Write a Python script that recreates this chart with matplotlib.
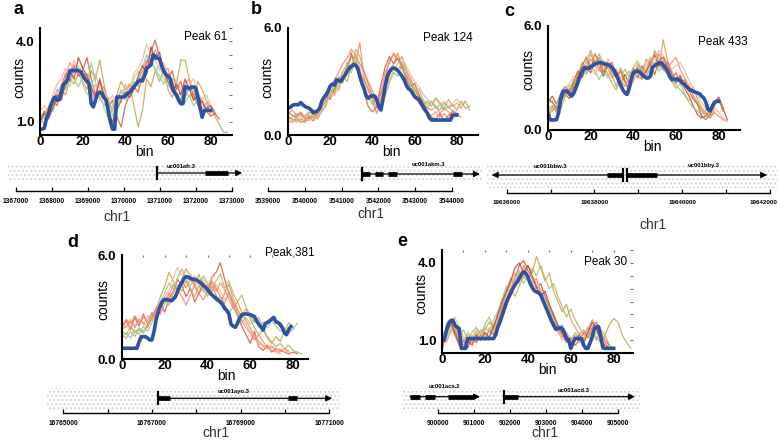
import numpy as np
import matplotlib.pyplot as plt
from matplotlib.ticker import MultipleLocator

plt.rcParams['font.family'] = ['Liberation Sans', 'DejaVu Sans']

W, H = 779, 441

# ---------------- profile data (mean = blue, reps every 2 bins) ----------------
a_mean = [0.72, 0.72, 0.75, 1.1, 1.3, 1.6, 1.8, 1.92, 1.8, 1.82,
          2.1, 2.4, 2.45, 2.6, 2.9, 2.93, 2.9, 2.92, 2.9, 2.87,
          2.75, 2.6, 2.5, 2.42, 1.67, 1.55, 1.8, 2.05, 2.1, 2.05,
          1.9, 1.8, 1.4, 1.0, 0.72, 0.72, 1.92, 1.92, 1.92, 1.92,
          1.95, 2.05, 2.1, 2.2, 2.3, 2.4, 2.5, 2.55, 2.52, 2.7,
          3.0, 3.05, 3.12, 3.5, 3.45, 3.37, 3.35, 3.1, 2.9, 2.75,
          2.7, 2.62, 2.3, 2.1, 1.98, 1.8, 1.67, 1.67, 2.3, 2.28,
          2.24, 2.28, 2.3, 2.26, 1.9, 1.54, 1.16, 1.42, 1.42, 1.42, 1.42]
a_reps = [
    [1.2, 1.3, 1.5, 1.4, 1.9, 2.2, 2.0, 2.6, 2.4, 2.8, 2.5, 2.2, 2.9, 2.6, 3.3, 2.4, 1.3, 0.9, 2.0, 2.5, 2.2, 2.4, 1.6,
     0.8, 1.4, 2.6, 2.3, 2.9, 2.5, 3.0, 2.2, 1.9, 2.4, 3.3, 3.3, 2.6, 1.8, 2.5, 2.2, 1.8, 1.5, 1.2, 0.9, 0.6, 0.6],
    [1.0, 1.4, 1.2, 1.8, 1.6, 2.3, 2.8, 2.5, 3.1, 2.7, 2.9, 3.4, 2.6, 2.0, 2.5, 1.9, 1.5, 1.8, 1.2, 0.8, 1.6, 2.0, 2.3,
     2.1, 2.7, 3.2, 3.6, 4.05, 3.4, 3.0, 2.6, 2.9, 2.2, 2.5, 1.9, 2.3, 2.0, 1.6, 1.8, 1.4, 1.2, 1.3, 1.1],
    [1.1, 0.9, 1.5, 1.7, 2.2, 2.0, 2.7, 3.2, 2.9, 3.0, 2.6, 2.8, 2.2, 1.7, 2.1, 2.3, 1.8, 1.4, 1.9, 2.1, 2.0, 2.4, 2.2,
     2.6, 2.9, 3.3, 3.1, 3.7, 3.2, 2.8, 3.0, 2.4, 2.1, 1.8, 2.4, 2.6, 2.1, 1.9, 1.5, 1.7, 1.3],
    [1.3, 1.1, 1.6, 1.5, 2.0, 2.4, 2.2, 2.8, 2.6, 2.3, 2.7, 2.4, 3.2, 2.5, 1.9, 1.6, 1.9, 1.2, 1.7, 2.2, 1.8, 2.1, 2.5,
     2.3, 3.0, 3.5, 3.2, 3.0, 2.7, 2.4, 2.8, 2.2, 1.9, 2.1, 1.7, 2.0, 1.6, 1.8, 1.4, 1.5],
    [0.9, 1.2, 1.3, 1.9, 1.7, 2.1, 2.5, 2.3, 2.9, 3.1, 2.4, 2.0, 2.3, 2.8, 2.2, 1.5, 1.1, 1.6, 2.0, 1.7, 2.3, 2.0, 2.6,
     2.9, 2.5, 2.8, 3.4, 2.9, 3.1, 2.6, 2.3, 2.6, 2.0, 1.7, 2.2, 1.9, 2.3, 1.7, 1.9],
    [1.4, 1.6, 1.3, 2.0, 2.4, 2.6, 3.0, 2.7, 3.3, 2.8, 3.1, 2.5, 2.0, 2.4, 1.8, 2.1, 1.7, 2.0, 1.5, 1.9, 2.4, 2.2, 2.8,
     3.0, 3.3, 3.9, 3.5, 3.3, 2.9, 3.2, 2.7, 2.3, 2.6, 2.2, 1.9, 2.4, 2.6, 2.1, 1.8, 2.0, 1.6, 1.4],
    [1.0, 1.3, 1.1, 1.5, 2.0, 1.8, 2.4, 2.9, 2.6, 3.4, 3.0, 2.7, 2.3, 1.9, 2.6, 2.0, 1.3, 1.0, 1.4, 1.8, 2.1, 1.9, 2.2,
     2.7, 3.1, 2.8, 3.8, 3.3, 3.6, 2.9, 2.5, 2.1, 2.4, 2.0, 2.6, 2.2, 1.8, 2.0, 1.7, 1.5, 1.6, 1.3],
]
a_colors = ['olive', 'red', 'salmon', 'green', 'green2', 'pink', 'brown']

b_mean = [1.5, 1.55, 1.65, 1.7, 1.7, 1.7, 1.82, 1.7, 1.6, 1.55,
          1.5, 1.4, 1.25, 1.3, 1.35, 1.5, 1.9, 2.1, 2.25, 2.45,
          2.75, 2.85, 2.8, 3.1, 3.05, 3.0, 3.2, 3.35, 3.56, 3.75,
          3.85, 3.94, 3.92, 3.75, 3.3, 2.9, 2.63, 2.2, 2.06, 2.16,
          2.2, 2.18, 2.0, 1.6, 1.4, 2.0, 2.7, 3.28, 3.55, 3.7,
          3.75, 3.72, 3.6, 3.47, 3.3, 3.1, 2.8, 2.6, 2.53, 2.35,
          2.15, 2.06, 2.0, 1.8, 1.6, 1.4, 1.22, 0.95, 0.84, 0.84,
          0.84, 0.84, 0.84, 0.84, 0.84, 0.84, 0.84, 0.84, 1.12, 1.12, 1.12]
b_reps = [
    [1.0, 0.9, 0.8, 0.9, 0.8, 1.1, 1.0, 1.3, 1.6, 2.0, 2.5, 2.4, 3.0, 3.6, 3.9, 4.4, 4.0, 5.2, 3.2, 2.5, 1.9, 1.2, 2.0,
     3.2, 4.2, 4.5, 4.2, 4.4, 3.6, 3.2, 2.6, 2.2, 1.9, 1.5, 1.4, 1.6, 1.2, 1.5, 1.3, 1.0, 1.1],
    [0.8, 0.7, 0.9, 0.7, 0.8, 0.9, 1.2, 1.0, 1.5, 1.9, 2.2, 2.8, 2.5, 3.3, 3.0, 3.8, 4.5, 3.6, 3.0, 2.6, 2.2, 1.8, 2.4,
     3.0, 3.6, 4.0, 4.6, 3.8, 3.4, 2.9, 2.5, 2.1, 1.8, 1.5, 1.9, 1.6, 1.4, 1.8, 1.5, 1.7, 1.4, 1.9, 1.5, 1.6],
    [1.3, 1.1, 1.0, 1.2, 0.9, 1.0, 0.8, 1.2, 1.8, 2.2, 2.0, 2.6, 3.2, 3.0, 3.6, 4.6, 3.8, 3.4, 2.4, 1.6, 1.3, 1.6, 2.8,
     3.8, 4.4, 4.0, 4.3, 3.9, 3.1, 2.7, 2.9, 2.3, 1.7, 1.3, 1.0, 0.9, 1.2, 0.8, 1.1, 1.3, 1.2],
    [0.9, 1.0, 1.2, 1.0, 1.1, 1.3, 1.1, 1.4, 1.7, 2.3, 2.1, 2.9, 2.7, 3.4, 3.8, 3.5, 4.2, 3.1, 2.7, 2.1, 1.7, 2.2, 2.0,
     2.6, 3.3, 3.9, 3.6, 4.1, 3.3, 2.8, 2.4, 2.6, 2.0, 1.7, 1.9, 1.5, 1.7, 1.4, 1.6, 1.3],
    [0.7, 0.8, 0.7, 0.9, 1.0, 0.8, 0.9, 1.1, 1.4, 1.6, 2.4, 2.2, 2.7, 3.1, 3.4, 4.0, 4.3, 3.8, 3.4, 2.8, 2.3, 2.0, 1.8,
     2.5, 3.1, 3.6, 4.0, 4.3, 3.9, 3.4, 3.0, 2.7, 2.3, 2.0, 1.8, 2.0, 1.7, 1.9, 1.6, 1.8, 2.0, 1.7, 1.9],
    [1.1, 0.8, 1.0, 0.8, 0.7, 0.9, 1.0, 0.9, 1.3, 1.7, 2.6, 2.3, 3.3, 2.9, 4.1, 3.7, 4.8, 4.4, 3.5, 3.0, 2.5, 2.0, 1.7,
     2.2, 2.9, 3.5, 3.3, 4.0, 3.7, 3.0, 2.6, 2.0, 1.6, 1.9, 1.6, 2.1, 1.8, 1.5, 2.0, 1.6, 1.8, 1.5, 1.9, 1.4],
    [1.2, 1.4, 1.1, 1.3, 1.0, 1.2, 1.4, 1.2, 1.9, 2.4, 2.8, 3.1, 3.5, 4.0, 4.3, 4.8, 4.5, 4.0, 3.6, 2.9, 2.1, 1.5, 2.3,
     3.5, 4.0, 4.6, 4.3, 3.7, 3.3, 2.5, 2.1, 1.8, 1.4, 1.2, 1.1, 1.3, 1.0, 1.2, 0.9, 1.4, 1.2, 1.0],
]
b_colors = ['salmon', 'olive', 'red', 'green', 'pink', 'olive2', 'salmon']

c_mean = [0.97, 0.58, 0.58, 0.58, 0.6, 1.0, 1.8, 2.24, 2.24, 2.24,
          2.1, 1.95, 2.1, 2.4, 2.73, 3.1, 3.35, 3.6, 3.55, 3.55,
          3.65, 3.72, 3.8, 3.85, 3.9, 3.88, 3.82, 3.8, 3.78, 3.7,
          3.6, 3.45, 3.2, 2.9, 2.6, 2.34, 2.15, 2.05, 2.4, 2.9,
          3.3, 3.38, 3.4, 3.35, 3.22, 3.1, 3.0, 3.0, 3.1, 3.6,
          3.72, 3.8, 3.85, 3.9, 3.75, 3.6, 3.4, 3.1, 2.9, 2.92,
          2.95, 2.9, 2.85, 2.7, 2.63, 2.5, 2.38, 2.3, 2.24, 2.18,
          2.14, 2.1, 1.95, 1.85, 1.6, 1.2, 1.1, 1.36, 1.6, 1.65, 1.65]
c_reps = [
    [1.2, 1.4, 1.0, 1.8, 2.3, 2.0, 2.7, 3.2, 3.9, 3.5, 4.4, 3.8, 4.2, 3.4, 3.9, 3.2, 2.5, 3.6, 2.9, 2.1, 3.1, 3.8, 3.3,
     4.1, 3.7, 4.5, 3.6, 5.2, 4.0, 3.4, 2.8, 3.2, 2.6, 2.2, 2.5, 1.8, 1.3, 1.0, 0.8, 1.1],
    [1.6, 1.95, 1.5, 2.1, 2.5, 2.2, 2.8, 3.4, 3.0, 3.7, 3.3, 4.0, 3.6, 3.1, 3.8, 3.4, 3.0, 2.6, 3.2, 2.7, 3.5, 3.0, 3.7,
     3.3, 3.9, 4.3, 3.8, 3.5, 3.9, 3.2, 2.7, 3.1, 2.4, 2.0, 1.4, 0.9, 0.7, 0.8, 1.2, 1.6, 1.9, 1.3, 0.6],
    [1.0, 1.3, 1.1, 1.6, 2.0, 2.4, 2.2, 3.0, 3.6, 3.3, 4.1, 3.7, 3.4, 4.0, 3.6, 3.0, 3.5, 2.8, 2.5, 3.0, 3.6, 3.2, 2.9,
     3.5, 4.1, 3.7, 4.4, 4.0, 3.6, 3.9, 4.2, 3.5, 3.0, 2.6, 2.0, 1.5, 1.1, 0.8, 0.7, 1.0, 0.8, 0.6, 0.5],
    [1.3, 1.1, 1.5, 1.9, 2.2, 2.6, 2.4, 2.9, 3.5, 3.2, 3.8, 3.4, 2.9, 3.5, 3.0, 3.6, 3.2, 2.7, 3.0, 3.4, 2.9, 3.3, 3.6,
     3.1, 3.5, 3.9, 3.4, 3.7, 3.3, 2.9, 2.6, 2.3, 2.0, 1.6, 1.3, 1.1, 0.9, 1.2, 1.0],
    [1.5, 1.7, 1.3, 2.0, 2.4, 2.7, 3.1, 2.8, 3.4, 3.9, 3.6, 3.2, 3.8, 3.5, 4.1, 3.7, 3.3, 3.0, 2.6, 3.1, 2.7, 3.4, 3.1,
     3.8, 4.2, 4.0, 4.6, 4.3, 3.8, 3.5, 3.7, 3.9, 3.4, 2.9, 2.4, 2.0, 1.6, 1.2, 0.9, 1.3, 1.0, 0.7, 0.5],
    [1.8, 1.6, 1.2, 1.7, 2.1, 1.8, 2.5, 3.1, 3.7, 4.2, 3.5, 4.4, 3.9, 3.3, 3.7, 3.9, 3.1, 3.4, 2.8, 2.4, 3.2, 3.6, 3.0,
     3.4, 3.8, 3.2, 4.0, 4.2, 3.7, 3.0, 3.3, 2.7, 2.9, 2.3, 1.8, 1.5, 0.8, 0.6, 0.9, 1.4, 1.8, 1.1],
    [0.9, 1.1, 1.4, 1.2, 1.9, 2.3, 2.9, 2.6, 3.2, 4.0, 4.6, 3.9, 4.4, 3.8, 3.2, 2.7, 2.3, 3.0, 3.5, 3.1, 3.6, 4.0, 3.4,
     3.0, 3.6, 4.6, 4.1, 3.5, 3.2, 2.8, 2.4, 2.7, 2.1, 1.7, 2.0, 1.6, 1.2, 0.9, 0.7],
]
c_colors = ['olive', 'brown', 'salmon', 'green', 'pink', 'red', 'olive2']

d_mean = [0.62, 0.62, 0.62, 0.62, 0.62, 0.62, 0.62, 0.62, 1.0, 1.29,
          1.29, 1.29, 1.2, 1.1, 1.1, 1.6, 2.3, 2.73, 3.1, 3.35,
          3.44, 3.42, 3.4, 3.35, 3.45, 3.6, 3.9, 4.2, 4.4, 4.65,
          4.75, 4.73, 4.65, 4.6, 4.58, 4.56, 4.45, 4.38, 4.25, 4.15,
          4.0, 3.85, 3.7, 3.6, 3.5, 3.4, 3.28, 3.15, 2.92, 2.8,
          2.6, 2.0, 1.9, 1.83, 2.05, 2.35, 2.54, 2.6, 2.6, 2.58,
          2.56, 2.5, 2.44, 2.2, 2.0, 1.85, 1.67, 2.05, 2.1, 2.2,
          2.3, 2.4, 2.15, 2.1, 2.0, 1.8, 1.5, 1.4, 1.7, 1.87]
d_reps = [
    [1.8, 2.2, 1.7, 2.4, 1.9, 2.6, 2.0, 2.3, 2.8, 3.2, 2.7, 3.5, 3.9, 4.6, 4.2, 3.6, 4.1, 3.3, 3.8, 4.4, 4.0, 4.7, 5.0,
     5.55, 4.6, 3.8, 3.1, 2.5, 1.9, 1.4, 0.9, 1.6, 0.7, 0.5, 0.8, 0.4, 0.6, 0.5, 0.4, 0.3, 0.4, 0.3],
    [1.4, 1.2, 1.6, 1.3, 1.7, 1.5, 2.0, 2.4, 2.9, 3.6, 4.2, 5.0, 4.5, 3.9, 4.6, 5.2, 4.8, 4.3, 4.9, 4.0, 3.6, 4.2, 3.7,
     3.2, 3.8, 4.3, 3.5, 2.9, 2.4, 2.9, 2.3, 1.8, 1.4, 1.7, 1.2, 0.9, 1.3, 1.0, 1.6, 2.1, 1.8],
    [1.3, 1.5, 1.2, 1.7, 1.4, 1.9, 1.6, 2.1, 2.6, 3.3, 3.8, 4.4, 4.0, 4.7, 5.2, 4.6, 4.2, 4.8, 4.4, 3.9, 4.3, 3.7, 3.3,
     3.6, 3.1, 2.7, 3.0, 2.5, 2.1, 2.4, 2.0, 2.3, 1.9, 2.1, 1.8, 2.2, 1.9, 1.6, 1.8, 1.5, 1.7, 2.06],
    [2.0, 1.8, 2.3, 1.9, 2.2, 2.0, 2.5, 2.2, 2.7, 3.0, 3.6, 4.0, 4.7, 5.3, 4.8, 4.4, 4.9, 4.5, 4.1, 4.6, 4.2, 3.8, 4.3,
     3.9, 3.4, 3.7, 3.2, 2.8, 2.4, 2.0, 1.6, 1.2, 0.9, 0.7, 0.6, 0.8, 0.5, 0.6, 0.4, 0.5],
    [1.6, 1.4, 1.9, 1.5, 1.8, 1.6, 1.9, 2.6, 2.3, 2.9, 3.5, 3.1, 3.8, 4.3, 3.9, 4.5, 4.0, 3.6, 4.2, 4.8, 4.4, 3.9, 4.5,
     4.9, 4.1, 4.5, 3.8, 3.3, 3.7, 3.0, 2.5, 2.1, 2.4, 1.8, 1.3, 1.0, 0.7, 0.9, 0.6, 0.8, 0.5, 0.4, 0.3],
    [1.9, 2.3, 2.0, 2.5, 2.1, 2.4, 2.2, 2.7, 2.4, 3.0, 3.4, 3.8, 3.4, 4.0, 3.6, 3.1, 3.7, 4.3, 3.8, 3.4, 3.9, 4.5, 4.1,
     3.6, 3.2, 3.9, 3.3, 2.7, 2.2, 1.8, 1.5, 1.1, 1.4, 1.0, 0.7, 0.5, 0.4, 0.3],
    [1.7, 1.9, 2.2, 1.8, 2.3, 2.1, 1.8, 2.4, 3.0, 2.6, 3.2, 3.7, 4.3, 3.9, 4.5, 4.1, 4.6, 4.2, 3.7, 4.3, 3.8, 4.4, 3.9,
     4.4, 4.0, 3.5, 2.9, 3.3, 2.7, 2.2, 1.8, 1.3, 1.0, 0.8, 0.6, 0.7, 0.5, 0.4, 0.6, 0.4],
]
d_colors = ['red', 'olive', 'green', 'pink', 'olive2', 'salmon', 'salmon']

e_mean = [1.0, 1.0, 1.35, 1.65, 1.75, 1.78, 1.58, 1.5, 1.45, 0.68,
          0.68, 0.68, 1.06, 1.06, 1.06, 1.06, 1.06, 1.06, 1.06, 1.06,
          1.06, 1.06, 1.06, 1.06, 1.06, 1.2, 1.5, 1.7, 1.95, 2.2,
          2.45, 2.65, 2.82, 3.0, 3.15, 3.26, 3.4, 3.55, 3.65, 3.6,
          3.46, 3.22, 3.05, 2.92, 2.88, 2.84, 2.75, 2.55, 2.35, 2.16,
          1.95, 1.75, 1.58, 1.42, 1.45, 1.49, 1.45, 1.3, 1.06, 1.02,
          0.68, 0.9, 1.06, 1.06, 1.06, 1.06, 0.8, 0.68, 0.68, 0.9,
          1.13, 1.45, 1.52, 1.52, 1.1, 0.7, 0.68, 0.68, 0.68, 0.68, 0.68]
e_reps = [
    [0.8, 1.2, 1.7, 1.4, 1.0, 0.8, 1.1, 0.9, 1.3, 1.0, 1.4, 1.7, 1.5, 2.0, 2.4, 2.9, 3.4, 3.1, 3.7, 3.4, 3.9, 3.6, 4.25,
     3.8, 3.3, 3.6, 2.9, 2.5, 2.1, 2.4, 1.8, 1.5, 1.2, 1.4, 1.1, 1.3, 1.0, 1.4, 1.2, 1.6, 1.84, 1.7, 1.2, 0.9, 0.68],
    [0.7, 1.3, 1.6, 1.2, 0.8, 1.0, 0.7, 1.1, 0.9, 1.2, 1.0, 1.4, 1.2, 1.7, 2.2, 2.6, 3.0, 3.4, 3.9, 4.1, 3.7, 3.4, 3.0,
     3.2, 2.7, 2.3, 1.9, 1.5, 1.2, 0.9, 1.1, 0.8, 1.0, 1.3, 1.1, 1.5, 1.7, 1.3, 1.0, 0.8],
    [1.1, 1.5, 1.8, 1.5, 1.1, 0.9, 1.2, 1.0, 1.1, 1.4, 1.2, 1.1, 1.6, 1.9, 2.3, 2.8, 3.2, 3.6, 3.3, 3.9, 3.5, 3.2, 3.4,
     2.8, 2.4, 2.0, 1.7, 1.4, 1.1, 1.3, 1.0, 1.2, 0.9, 1.1, 1.4, 1.8, 1.5, 1.2, 0.9, 0.7],
    [0.9, 1.1, 1.5, 1.7, 1.3, 1.0, 1.3, 1.1, 1.4, 1.2, 1.5, 1.3, 1.8, 2.1, 2.6, 3.1, 2.8, 3.3, 3.6, 3.2, 3.5, 3.1, 2.8,
     3.0, 2.6, 2.2, 1.8, 1.4, 1.6, 1.2, 1.0, 1.3, 1.1, 0.9, 1.2, 1.0, 1.3, 1.1],
    [1.0, 0.9, 1.3, 1.6, 1.2, 1.4, 1.0, 1.3, 1.5, 1.2, 1.6, 1.9, 1.4, 1.8, 2.1, 2.5, 3.0, 2.7, 3.1, 3.5, 3.3, 3.8, 3.5,
     3.9, 3.4, 3.0, 3.2, 2.7, 2.3, 1.9, 2.2, 1.8, 1.5, 1.2, 1.5, 1.3, 1.1, 0.9, 1.2, 0.8, 0.7],
    [0.8, 1.0, 1.4, 1.9, 1.5, 1.1, 0.9, 1.2, 1.0, 1.3, 1.1, 1.5, 1.3, 1.6, 2.0, 2.4, 2.9, 3.5, 3.2, 3.8, 3.4, 3.0, 3.3,
     2.9, 2.5, 2.1, 1.7, 1.3, 1.0, 1.2, 0.9, 1.1, 1.3, 1.0, 1.2, 1.6, 1.4, 1.1, 0.8],
    [0.6, 1.4, 1.7, 1.3, 0.9, 0.7, 1.0, 0.8, 1.2, 1.0, 1.3, 1.1, 1.5, 2.0, 2.5, 2.9, 3.3, 3.8, 4.0, 3.6, 3.9, 3.5, 3.1,
     2.7, 2.9, 2.4, 2.0, 1.6, 1.3, 1.0, 0.8, 1.0, 1.2, 0.9, 1.3, 1.7, 1.4, 1.0, 0.8, 0.7],
]
e_colors = ['olive', 'red', 'salmon', 'green', 'olive2', 'pink', 'brown']

# ---------------- gene tracks: (name, start, end, strand, exons, tss bar) ----------------
a_genes = [('uc001afr.3', 1370920, 1373290, '+', [(1372257, 1372897)], True)]
b_genes = [('uc001akm.3', 3541545, 3544768, '+',
            [(3541545, 3541771), (3541910, 3542136), (3542253, 3542498), (3544041, 3544270)], True)]
c_genes = [('uc001bbw.3', 19635658, 19638642, '-', [(19638278, 19638642)], True),
           ('uc001bby.3', 19638733, 19641936, '+', [(19638733, 19639417)], True)]
d_genes = [('uc001ayo.3', 16767130, 16771065, '+', [(16767130, 16767408), (16770080, 16770270)], True)]
e_genes = [('uc001aca.2', 899214, 901158, '+', [(899214, 899491), (899630, 899908), (900278, 901000)], False),
           ('uc001acd.3', 901833, 905463, '+', [(901833, 902222)], True)]

a_ticks = list(range(1367000, 1373001, 1000))
b_ticks = list(range(3539000, 3544001, 1000))
c_ticks = list(range(19636000, 19642001, 1000))
d_ticks = list(range(16765000, 16771001, 1000))
e_ticks = list(range(900000, 905001, 1000))

palette = {'salmon': '#f3866a', 'red': '#d9573e', 'brown': '#b5483a', 'olive': '#c2a552',
           'olive2': '#b9b060', 'green': '#95cb86', 'green2': '#a9d49a', 'pink': '#f5b19e'}
blue = '#2c52a3'

fig = plt.figure(figsize=(W / 100, H / 100), dpi=100)


def px_axes(x0, y0, x1, y1):
    return fig.add_axes([x0 / W, 1 - y1 / H, (x1 - x0) / W, (y1 - y0) / H])


def ftext(x, y, s, **kw):
    kw.setdefault('ha', 'center')
    kw.setdefault('va', 'center')
    fig.text(x / W, 1 - y / H, s, **kw)


def profile(box, mean, reps, colors, xmax, ylim, yticks, right_dots=False, top_dots=False):
    ax = px_axes(*box)
    for r, c in zip(reps, colors):
        ax.plot(np.arange(len(r)) * 2, r, color=palette[c], lw=0.9, alpha=0.85)
    ax.plot(np.arange(len(mean)), mean, color=blue, lw=2.6, solid_joinstyle='round')
    ax.set_xlim(0, xmax)
    ax.set_ylim(*ylim)
    ax.set_xticks([0, 20, 40, 60, 80])
    ax.set_yticks(yticks)
    ax.set_yticklabels([f'{v:.1f}' for v in yticks])
    for s in ['top', 'right']:
        ax.spines[s].set_visible(False)
    for s in ['left', 'bottom']:
        ax.spines[s].set_linewidth(1.5)
    ax.tick_params(which='major', length=0, labelsize=9.5)
    ax.tick_params(axis='x', pad=1)
    ax.tick_params(axis='y', pad=4)
    for lab in ax.get_xticklabels() + ax.get_yticklabels():
        lab.set_fontweight('bold')
    if right_dots:
        ax.yaxis.remove_overlapping_locs = False
        ax.yaxis.set_minor_locator(MultipleLocator(0.5))
        ax.tick_params(axis='y', which='minor', left=False, right=True, direction='in',
                       length=2, width=0.8, color='#777777')
    if top_dots:
        ax.xaxis.remove_overlapping_locs = False
        ax.xaxis.set_minor_locator(MultipleLocator(10))
        ax.tick_params(axis='x', which='minor', bottom=False, top=True, direction='in',
                       length=1.5, width=0.9, color='#777777')
    ax.annotate('bin', xy=(49, 0), xycoords=('data', 'axes fraction'), xytext=(0, -12),
                textcoords='offset points', ha='center', va='center', fontsize=10)
    return ax


def track(xpx, ref, ref_px, ppk, top, bar_y, gene_y, bg, genes, ticks, label_every,
          labelsize=4.8, skip_last=False):
    x0, x1 = xpx
    ax = px_axes(x0, top, x1, bar_y)
    ax.set_xlim(ref + (x0 - ref_px) / ppk * 1000, ref + (x1 - ref_px) / ppk * 1000)
    ax.set_ylim(bar_y, top)
    ax.axhspan(bg[0], bg[1], fill=False, hatch='....', ec='#d6d6d6', lw=0)
    for name, start, end, strand, exons, bar in genes:
        tss, tip = (start, end) if strand == '+' else (end, start)
        ax.annotate('', xy=(tip, gene_y), xytext=(tss, gene_y), annotation_clip=False,
                    arrowprops=dict(arrowstyle='-|>', lw=0.9, color='k', shrinkA=0, shrinkB=0,
                                    mutation_scale=9))
        for s, e in exons:
            ax.plot([s, e], [gene_y, gene_y], color='k', lw=3.4, solid_capstyle='butt', clip_on=False)
        if bar:
            ax.plot([tss, tss], [gene_y - 6, gene_y + 6], color='k', lw=1.6, clip_on=False)
    for s in ['top', 'left', 'right']:
        ax.spines[s].set_visible(False)
    ax.spines['bottom'].set_bounds(ticks[0], ticks[-1])
    ax.spines['bottom'].set_linewidth(1.0)
    ax.set_yticks([])
    ax.set_xticks(ticks)
    labels = [str(t) if i % label_every == 0 else '' for i, t in enumerate(ticks)]
    if skip_last:
        labels[-1] = ''
    ax.set_xticklabels(labels)
    ax.tick_params(axis='x', direction='in', length=3, width=0.9, pad=5, labelsize=labelsize)
    for lab in ax.get_xticklabels():
        lab.set_fontweight('bold')
    ax.patch.set_alpha(0)
    return ax


# ---------------- panels ----------------
profile((40, 28, 232, 135), a_mean, a_reps, a_colors, 90, (0.5, 4.5), [1.0, 4.0], right_dots=True)
profile((288, 28, 478, 135), b_mean, b_reps, b_colors, 90, (0, 6), [0.0, 6.0])
profile((548, 26, 740, 130), c_mean, c_reps, c_colors, 90, (0, 6), [0.0, 6.0])
profile((122, 255, 308, 359), d_mean, d_reps, d_colors, 87, (0, 6), [0.0, 6.0], top_dots=True)
profile((442, 250, 633, 353), e_mean, e_reps, e_colors, 89, (0.5, 4.5), [1.0, 4.0], right_dots=True, top_dots=True)

track((8, 258), 1367000, 16.0, 35.95, 158, 190.7, 173, (165, 182), a_genes, a_ticks, 1)
track((260, 482), 3539000, 268.3, 36.68, 158, 190.7, 174, (166, 182), b_genes, b_ticks, 1)
track((487, 777), 19636000, 506.7, 43.88, 158, 192.7, 175, (165, 188), c_genes, c_ticks, 2,
      labelsize=4.5, skip_last=True)
track((47, 340), 16765000, 63.3, 44.33, 382, 413.3, 398.3, (388, 410), d_genes, d_ticks, 2)
track((402, 640), 900000, 438.3, 36.0, 380, 412.7, 396.7, (388, 412), e_genes, e_ticks, 1)

# last scale label of panel c sits left of its tick, against the figure edge
ftext(764, 202.5, str(c_ticks[-1]), fontsize=4.5, fontweight='bold')

# gene names
for x, y, s in [(181, 166, 'uc001afr.3'), (428, 165, 'uc001akm.3'), (550, 166, 'uc001bbw.3'),
                (704, 166, 'uc001bby.3'), (234, 392, 'uc001ayo.3'), (444, 386, 'uc001aca.2'),
                (574, 391, 'uc001acd.3')]:
    ftext(x, y, s, fontsize=4.2, fontweight='bold')

# chromosome labels
for x, y in [(117, 217), (371, 214), (653, 225), (216, 433), (545, 433)]:
    ftext(x, y, 'chr1', fontsize=10, color='#333333')

# axis labels, peak names, panel letters
for x, y in [(19, 77), (267, 77), (528, 70), (103, 300), (421, 294)]:
    ftext(x, y, 'counts', fontsize=10, rotation=90)
for x, y, s in [(227, 37, 'Peak 61'), (473, 38, 'Peak 124'), (748, 42, 'Peak 433'),
                (315, 253, 'Peak 381'), (627, 262, 'Peak 30')]:
    ftext(x, y, s, fontsize=8.5, ha='right')
for x, y, s in [(19, 10, 'a'), (256, 9, 'b'), (509, 11, 'c'), (73, 243, 'd'), (402, 242, 'e')]:
    ftext(x, y, s, fontsize=13, fontweight='bold')

fig.savefig('out.png', dpi=100)
